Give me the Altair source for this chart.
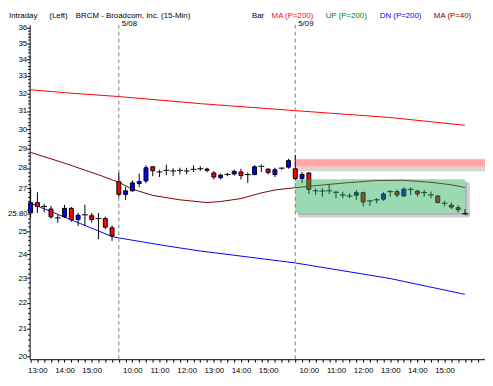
import json
import altair as alt
import pandas as pd

# ---------------- data ----------------
bars = list(range(65))
opens = [25.84, 26.32, 26.14, 26.02, 25.61, 25.66, 26.05, 25.53, 25.75, 25.71, 25.58, 25.58, 25.16,
         27.32, 26.71, 26.88, 27.23, 27.36, 28.06, 27.80, 27.88, 27.85, 27.88, 27.85, 27.93, 27.96,
         27.94, 27.75, 27.52, 27.68, 27.70, 27.80, 27.67, 27.67, 28.08, 27.94, 27.67, 27.99, 28.04,
         27.96, 27.48, 27.75, 26.88, 26.87, 26.88, 26.81, 26.68, 26.63, 26.67, 26.79, 26.40, 26.45,
         26.48, 26.84, 26.84, 26.63, 26.95, 26.87, 26.79, 26.68, 26.63, 26.29, 26.20, 26.08, 25.80]
highs = [27.03, 26.81, 26.26, 26.17, 25.76, 26.22, 26.11, 25.84, 26.22, 25.84, 25.84, 25.67, 25.27,
         27.76, 27.07, 27.39, 27.72, 28.13, 28.08, 27.91, 28.17, 27.99, 28.01, 28.01, 28.13, 28.09,
         28.01, 27.85, 27.72, 27.75, 27.91, 27.96, 27.77, 28.13, 28.17, 27.98, 28.01, 28.03, 28.46,
         28.67, 27.80, 27.77, 27.00, 27.00, 27.19, 26.88, 26.84, 26.76, 26.92, 26.84, 26.45, 26.53,
         26.81, 26.92, 26.95, 27.04, 27.04, 26.92, 26.92, 26.84, 26.68, 26.40, 26.32, 26.20, 26.02]
lows = [25.62, 25.84, 25.86, 25.57, 25.39, 25.61, 25.43, 25.24, 25.24, 25.39, 24.65, 25.09, 24.58,
        26.59, 26.45, 26.84, 27.06, 27.24, 27.59, 27.55, 27.64, 27.59, 27.68, 27.68, 27.80, 27.85,
        27.78, 27.43, 27.43, 27.59, 27.62, 27.43, 27.26, 27.64, 27.80, 27.68, 27.55, 27.91, 27.96,
        27.39, 27.26, 26.73, 26.68, 26.60, 26.73, 26.53, 26.53, 26.53, 26.45, 26.14, 26.17, 26.29,
        26.40, 26.60, 26.57, 26.60, 26.68, 26.60, 26.60, 26.53, 26.29, 26.14, 26.02, 25.86, 25.76]
closes = [26.32, 26.14, 26.14, 25.66, 25.61, 26.05, 25.53, 25.73, 25.75, 25.53, 25.58, 25.19, 24.80,
          26.71, 26.88, 27.26, 27.33, 28.01, 27.86, 27.80, 27.88, 27.85, 27.88, 27.85, 27.93, 27.96,
          27.88, 27.55, 27.64, 27.68, 27.83, 27.62, 27.67, 28.06, 28.08, 27.77, 27.91, 27.99, 28.37,
          27.48, 27.68, 26.95, 26.88, 26.87, 26.88, 26.81, 26.68, 26.63, 26.79, 26.35, 26.40, 26.45,
          26.73, 26.84, 26.68, 26.96, 26.95, 26.73, 26.79, 26.68, 26.32, 26.29, 26.11, 25.99, 25.80]

ma200_bar = [0, 5, 13, 25, 39, 53, 64]
ma200_val = [32.20, 32.03, 31.81, 31.41, 31.02, 30.64, 30.22]

ma40_bar = [0, 5, 10, 13, 15, 18, 22, 26, 28, 31, 34, 36, 39, 43, 47, 51, 55, 59, 62, 64]
ma40_val = [28.79, 28.24, 27.66, 27.29, 26.96, 26.66, 26.45, 26.32, 26.37, 26.51, 26.78, 26.92,
            27.03, 27.16, 27.28, 27.38, 27.39, 27.29, 27.17, 27.04]

dn_bar = [0, 12, 13, 20, 25, 39, 53, 64]
dn_val = [26.29, 24.77, 24.71, 24.36, 24.14, 23.63, 22.98, 22.34]

hour_ticks = [1, 5, 9, 15, 19, 23, 27, 31, 35, 41, 45, 49, 53, 57, 61]
hour_labels = ["13:00", "14:00", "15:00", "10:00", "11:00", "12:00", "13:00", "14:00", "15:00",
               "10:00", "11:00", "12:00", "13:00", "14:00", "15:00"]
day_starts = [13, 39]
day_labels = ["5/08", "5/09"]
last_price = 25.80

box_bar = [39, 64]
box_price = [27.44, 25.85]
band_bar = [39, 67]
band_price = [28.47, 28.03]
band_core = [28.41, 28.10]

# ---------------- frames ----------------
df = pd.DataFrame({"k": bars, "o": opens, "h": highs, "l": lows, "c": closes})
df["dir"] = ["up" if c > o else ("down" if c < o else "flat") for o, c in zip(opens, closes)]
bodies = df[df["dir"] != "flat"]
dojis = df[df["dir"] == "flat"]

ma200 = pd.DataFrame({"k": ma200_bar, "v": ma200_val})
ma40 = pd.DataFrame({"k": ma40_bar, "v": ma40_val})
dn = pd.DataFrame({"k": dn_bar, "v": dn_val})
days = pd.DataFrame({"k": day_starts, "t": day_labels})
box = pd.DataFrame({"x1": [box_bar[0]], "x2": [box_bar[1]], "y1": [box_price[0]], "y2": [box_price[1]]})
band = pd.DataFrame({"x1": [band_bar[0]], "x2": [band_bar[1]], "y1": [band_price[0]], "y2": [band_price[1]],
                     "c1": [band_core[0]], "c2": [band_core[1]]})
last = pd.DataFrame({"v": [last_price], "t": [f"{last_price:.2f}"]})

FONT = "Liberation Sans"
xs = alt.Scale(domain=[-0.145, 66.96], nice=False, zero=False, padding=0)
ys = alt.Scale(type="log", domain=[19.895, 36.16], nice=False, padding=0)

full_labels = [""] * 67
for t, lab in zip(hour_ticks, hour_labels):
    full_labels[t] = lab
x_label_expr = json.dumps(full_labels) + "[datum.value]"

y_minor = [round(20 + 0.2 * i, 1) for i in range(81)]
is_major = "abs(datum.value - round(datum.value)) < 0.01"

x_axis = alt.Axis(values=list(range(67)), tickSize=3, labelExpr=x_label_expr, labelPadding=5,
                  labelFontSize=8, labelFont=FONT, labelColor="black", domainColor="black",
                  tickColor="black", grid=False, labelOverlap=False, labelFlush=False, title=None)
y_axis = alt.Axis(values=y_minor,
                  tickSize={"condition": {"test": is_major, "value": 3}, "value": 2},
                  labelExpr=is_major + " && round(datum.value) != 26 ? format(round(datum.value), 'd') : ''",
                  labelPadding=0, labelFontSize=8, labelFont=FONT, labelColor="black",
                  domainColor="black", tickColor="black", grid=False, labelOverlap=False,
                  labelFlush=False, title=None)

X = lambda f: alt.X(f, type="quantitative", scale=xs, axis=x_axis)
Y = lambda f: alt.Y(f, type="quantitative", scale=ys, axis=y_axis)

# lines
l200 = alt.Chart(ma200).mark_line(color="#ff0000", strokeWidth=1).encode(x=X("k"), y=Y("v"))
l40 = alt.Chart(ma40).mark_line(color="#800000", strokeWidth=1).encode(x=X("k"), y=Y("v"))
ldn = alt.Chart(dn).mark_line(color="#0000ff", strokeWidth=1).encode(x=X("k"), y=Y("v"))

# separators
sep = alt.Chart(days).mark_rule(color="#808080", strokeDash=[4, 3], strokeWidth=1).encode(x=X("k"))
sep_txt = alt.Chart(days).mark_text(align="left", baseline="alphabetic", dx=3, fontSize=8, font=FONT,
                                    color="black").encode(x=X("k"), y=alt.value(1), text="t:N")

# candles
wicks = alt.Chart(df).mark_rule(color="black", strokeWidth=1).encode(x=X("k"), y=Y("l"), y2="h:Q")
body = alt.Chart(bodies).mark_bar(width=4, stroke="black", strokeWidth=1).encode(
    x=X("k"), y=Y("o"), y2="c:Q",
    color=alt.Color("dir:N", scale=alt.Scale(domain=["up", "down"], range=["#0000ff", "#ff0000"]),
                    legend=None))
doji = alt.Chart(dojis).mark_rule(color="black", strokeWidth=1, xOffset=-3, x2Offset=3).encode(
    x=X("k"), x2="k:Q", y=Y("c"))

# green box with shadow
gb_sh1 = alt.Chart(box).mark_rect(color="black", opacity=0.18, x2Offset=5, yOffset=3, y2Offset=3).encode(
    x=X("x2"), x2="x2:Q", y=Y("y1"), y2="y2:Q")
gb_sh2 = alt.Chart(box).mark_rect(color="black", opacity=0.18, xOffset=3, x2Offset=5, y2Offset=5).encode(
    x=X("x1"), x2="x2:Q", y=Y("y2"), y2="y2:Q")
gb_sh3 = alt.Chart(box).mark_rect(color="black", opacity=0.15, x2Offset=2, yOffset=2, y2Offset=2).encode(
    x=X("x2"), x2="x2:Q", y=Y("y1"), y2="y2:Q")
gb_sh4 = alt.Chart(box).mark_rect(color="black", opacity=0.15, xOffset=2, y2Offset=2).encode(
    x=X("x1"), x2="x2:Q", y=Y("y2"), y2="y2:Q")
gbox = alt.Chart(box).mark_rect(color="#20aa55", opacity=0.45).encode(
    x=X("x1"), x2="x2:Q", y=Y("y1"), y2="y2:Q")

# red band with shadow
rb_sh = alt.Chart(band).mark_rect(color="black", opacity=0.16, clip=True, xOffset=2, y2Offset=4).encode(
    x=X("x1"), x2="x2:Q", y=Y("y2"), y2="y2:Q")
rband = alt.Chart(band).mark_rect(color="#ff0000", opacity=0.25, clip=True).encode(
    x=X("x1"), x2="x2:Q", y=Y("y1"), y2="y2:Q")
rcore = alt.Chart(band).mark_rect(color="#ff0000", opacity=0.12, clip=True).encode(
    x=X("x1"), x2="x2:Q", y=Y("c1"), y2="c2:Q")

# last price label
last_lbl = alt.Chart(last).mark_text(align="right", baseline="middle", dx=-2, fontSize=8, font=FONT,
                                     color="black").encode(x=alt.value(0), y=Y("v"), text="t:N")

# header
header_items = [("Intraday", -21, "black"), ("(Left)", 20, "black"),
                ("BRCM - Broadcom, Inc.  (15-Min)", 47, "black"), ("Bar", 226, "black"),
                ("MA (P=200)", 246, "#ff0000"), ("UP (P=200)", 301, "#008000"),
                ("DN (P=200)", 356, "#0000ff"), ("MA (P=40)", 411, "#800000")]
headers = [
    alt.Chart(last).mark_text(text=txt, align="left", baseline="alphabetic", fontSize=8, font=FONT,
                              color=col).encode(x=alt.value(px), y=alt.value(-7))
    for txt, px, col in header_items
]

chart = alt.layer(
    l200, l40, ldn, sep, wicks, body, doji,
    gb_sh1, gb_sh2, gb_sh3, gb_sh4, gbox,
    rb_sh, rband, rcore,
    sep_txt, last_lbl, *headers
).properties(
    width=463, height=340,
    autosize=alt.AutoSizeParams(type="none"),
    padding={"left": 22, "top": 14, "right": 0, "bottom": 16},
    background="white",
).configure_view(strokeWidth=0)

chart.save("out.html", embed_options={"renderer": "svg", "actions": False})
